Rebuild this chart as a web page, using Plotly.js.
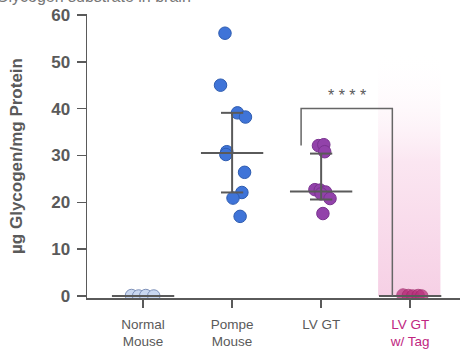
<!DOCTYPE html>
<html>
<head>
<meta charset="utf-8">
<script src="https://cdn.plot.ly/plotly-3.0.1.min.js"></script>
<style>html,body{margin:0;padding:0;background:#fff;}#chart{width:464px;height:350px;}</style>
</head>
<body>
<div id="chart"></div>
<script>
// ---- data ----
const categories = ['Normal<br>Mouse', 'Pompe<br>Mouse', 'LV GT', '<span style="color:#c0267f">LV GT<br>w/ Tag</span>'];

const normalValues = [0.1, 0.0, 0.1, 0.0];
const normalJitter = [-0.13, -0.05, 0.03, 0.12];

const pompeValues = [56.1, 45.0, 39.1, 38.2, 30.8, 30.2, 26.4, 22.1, 20.9, 17.0];
const pompeJitter = [-0.08, -0.13, 0.06, 0.15, -0.06, -0.07, 0.14, 0.11, 0.01, 0.09];

const lvgtValues = [32.1, 32.3, 30.8, 22.7, 22.6, 22.2, 21.8, 20.8, 17.6];
const lvgtJitter = [-0.03, 0.03, 0.04, -0.07, -0.01, 0.05, 0.0, 0.1, 0.02];

const tagValues = [0.2, 0.1, 0.0, 0.1, 0.0];
const tagJitter = [-0.08, -0.02, 0.03, 0.09, 0.13];

const medians = [0.0, 30.5, 22.3, 0.0];
const q1 = [0.0, 22.1, 20.6, 0.0];
const q3 = [0.0, 39.1, 30.4, 0.0];

const significance = '* * * *';

// ---- build ----
const grey = '#5a5a5a';
const traces = [];

// pink highlight band behind the last group
traces.push({
  x: [2.64, 3.34, 3.34, 2.64, 2.64], y: [0, 0, 52, 52, 0],
  mode: 'lines', line: {width: 0}, fill: 'toself',
  fillgradient: {type: 'vertical', start: 0, stop: 52,
    colorscale: [[0, 'rgba(246,208,229,1)'], [0.55, 'rgba(251,230,241,1)'], [1, 'rgba(255,255,255,0)']]},
  hoverinfo: 'skip', showlegend: false
});

function pts(vals, jit, idx, fill, outline, opac) {
  return {
    x: vals.map((v, i) => idx + jit[i]), y: vals,
    mode: 'markers', type: 'scatter', showlegend: false,
    marker: {size: 12.5, color: fill, opacity: opac, line: {color: outline, width: 1}}
  };
}

// median + IQR lines
const lx = [], ly = [];
medians.forEach((m, i) => {
  lx.push(i - 0.35, i + 0.35, null); ly.push(m, m, null);
  if (q3[i] > q1[i]) {
    lx.push(i, i, null); ly.push(q1[i], q3[i], null);
    lx.push(i - 0.125, i + 0.125, null); ly.push(q1[i], q1[i], null);
    lx.push(i - 0.125, i + 0.125, null); ly.push(q3[i], q3[i], null);
  }
});

traces.push(pts(normalValues, normalJitter, 0, '#c9d7f0', '#7d90b8', 1));
traces.push(pts(pompeValues, pompeJitter, 1, '#3f74d8', '#2e5cb0', 1));
traces.push(pts(lvgtValues, lvgtJitter, 2, '#9242aa', '#7a3390', 1));
traces.push(pts(tagValues, tagJitter, 3, '#b8307c', '#a0286a', 0.75));
traces.push({x: lx, y: ly, mode: 'lines', line: {color: grey, width: 2}, hoverinfo: 'skip', showlegend: false});

// significance bracket
traces.push({
  x: [1.775, 1.775, 2.8, 2.8], y: [32.1, 40, 40, 0],
  mode: 'lines', line: {color: '#666', width: 1.5}, hoverinfo: 'skip', showlegend: false
});

const layout = {
  width: 464, height: 350,
  margin: {l: 87, r: 4, t: 14, b: 52},
  paper_bgcolor: '#fff', plot_bgcolor: 'rgba(0,0,0,0)',
  font: {family: 'Arial, "Liberation Sans", sans-serif', color: grey},
  xaxis: {
    range: [-0.63, 3.56], tickvals: [0, 1, 2, 3], ticktext: categories,
    showgrid: false, zeroline: false, showline: true, linecolor: grey, linewidth: 1.5,
    ticks: 'outside', ticklen: 8, tickwidth: 1.5, tickcolor: grey,
    ticklabelstandoff: 5,
    tickfont: {size: 13.5, color: grey}
  },
  yaxis: {
    range: [-0.43, 60.2], tickvals: [0, 10, 20, 30, 40, 50, 60],
    showgrid: false, zeroline: false, showline: true, linecolor: grey, linewidth: 1.5,
    ticks: 'outside', ticklen: 9, tickwidth: 1.5, tickcolor: grey,
    ticklabelstandoff: 3,
    tickfont: {size: 17, color: grey, weight: 'bold'},
    title: {text: 'µg Glycogen/mg Protein', font: {size: 17, color: grey, weight: 'bold'}, standoff: 24}
  },
  annotations: [
    {x: 2.29, y: 42.8, xref: 'x', yref: 'y', text: significance, showarrow: false,
     font: {size: 16, color: grey}},
    {x: 0, y: 1, xref: 'paper', yref: 'paper', text: 'Glycogen substrate in brain', showarrow: false,
     font: {size: 16, color: '#777'}}
  ]
};
// place partly-visible heading at the very top, as in the source image
layout.annotations[1].x = (193 - 87) / (464 - 87 - 4);
layout.annotations[1].xanchor = 'right';
layout.annotations[1].y = (298 - (-3)) / (298 - 14);
layout.annotations[1].yanchor = 'middle';

Plotly.newPlot('chart', traces, layout, {displayModeBar: false, staticPlot: true});
</script>
</body>
</html>
